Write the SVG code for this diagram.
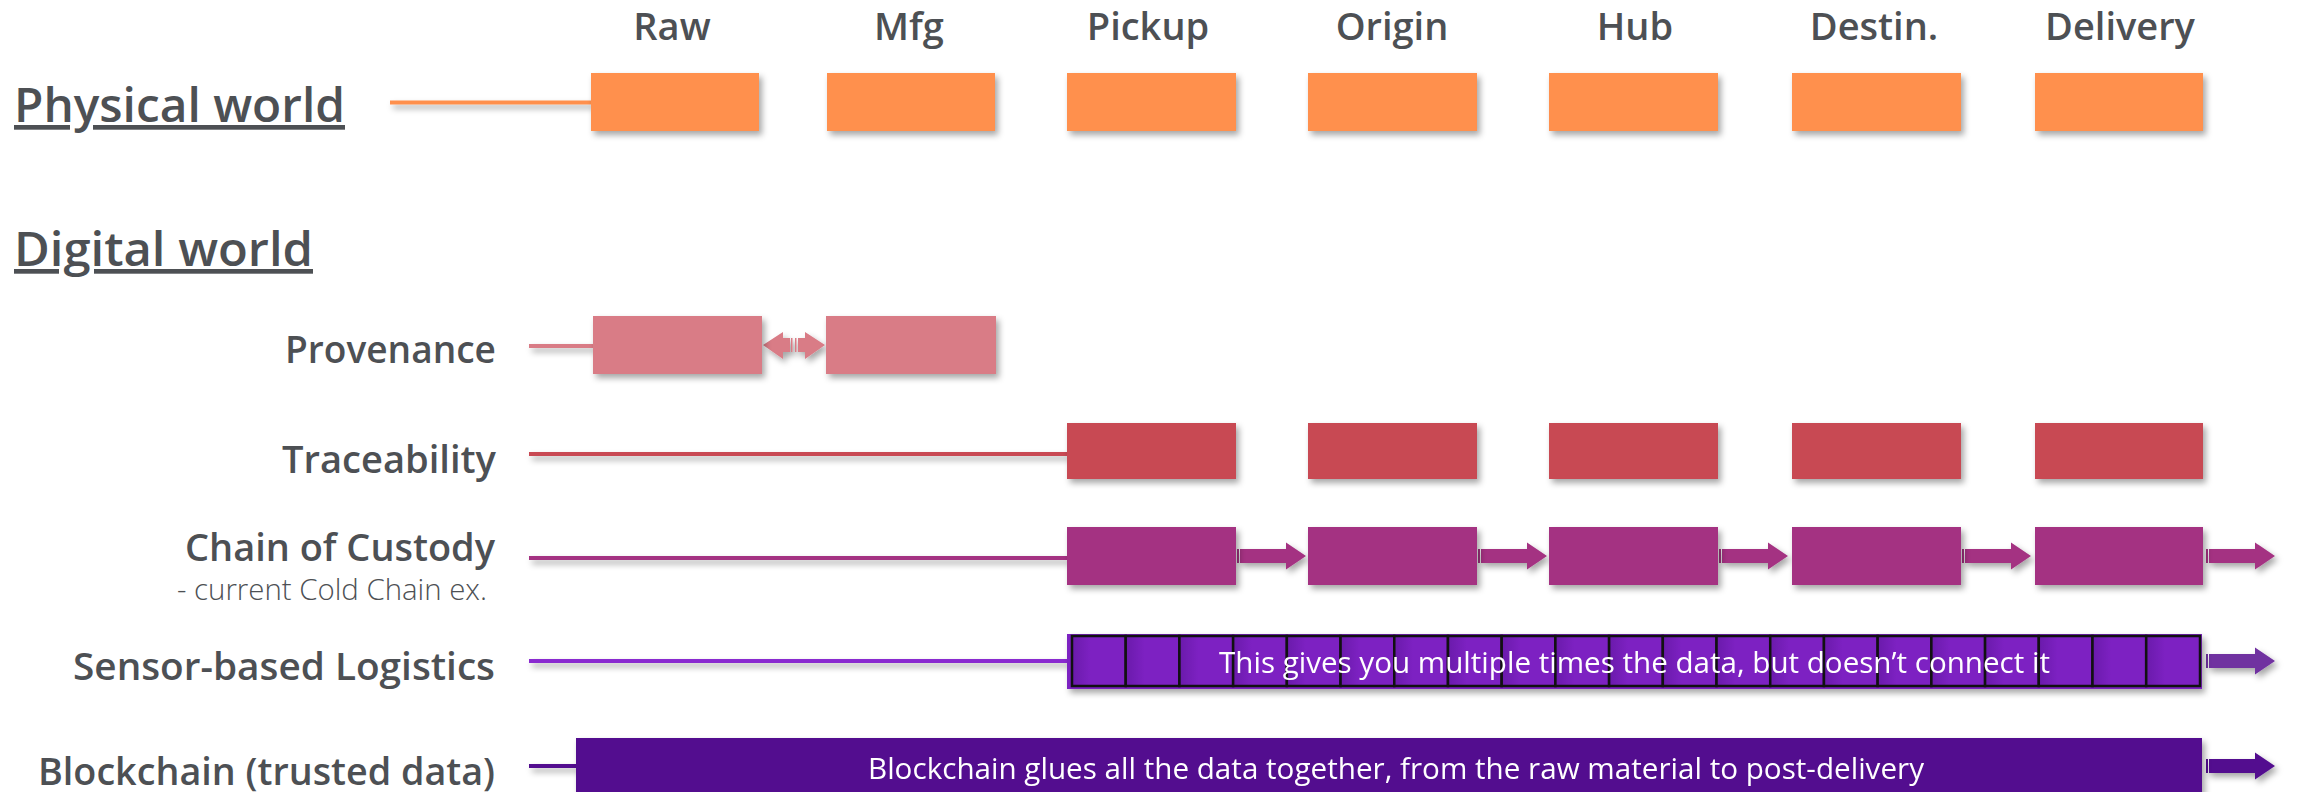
<svg xmlns="http://www.w3.org/2000/svg" xmlns:xlink="http://www.w3.org/1999/xlink" width="2298" height="792" viewBox="0 0 2298 792">
<style>
.lbl{font-family:"Open Sans","Noto Sans","Liberation Sans",sans-serif;font-weight:600;fill:#4d5054}
.stage{font-size:38px;text-anchor:middle}
.head{font-size:47px;text-decoration:underline}
.row{font-size:38px;text-anchor:end}
.sub{font-family:"Open Sans","Noto Sans","Liberation Sans",sans-serif;font-weight:300;font-size:29px;fill:#4d5054;text-anchor:end}
.bartxt{font-family:"Open Sans","Noto Sans","Liberation Sans",sans-serif;font-weight:400;font-size:29px;fill:#ffffff}
.orange{fill:#ff904d}
.prov{fill:#d97b86}
.trace{fill:#c84853}
.chain{fill:#a43382}
.sensor{fill:#7d20c2}
.block{fill:#53118f}
.ln{stroke-width:4;fill:none}
</style>
<defs>
<filter id="sh" x="-10%" y="-30%" width="120%" height="160%">
<feDropShadow dx="3" dy="4" stdDeviation="3" flood-color="#000" flood-opacity="0.35"/>
</filter>
<linearGradient id="cellg" x1="0" y1="0" x2="1" y2="0">
<stop offset="0" stop-color="#6a1aab"/>
<stop offset="0.35" stop-color="#7d21c2"/>
<stop offset="1" stop-color="#7d21c2"/>
</linearGradient>
<path id="arrow" d="M0,-7h2v14h-2zM3,-7H49V-13.5L69,0L49,13.5V7H3z"/>
</defs>

<g id="stage-labels">
<text class="lbl stage" x="672" y="40">Raw</text>
<text class="lbl stage" x="909" y="40">Mfg</text>
<text class="lbl stage" x="1148" y="40">Pickup</text>
<text class="lbl stage" x="1392" y="40">Origin</text>
<text class="lbl stage" x="1635" y="40">Hub</text>
<text class="lbl stage" x="1874" y="40">Destin.</text>
<text class="lbl stage" x="2120" y="40">Delivery</text>
</g>

<g id="headings">
<text class="lbl head" x="14" y="122" textLength="331" lengthAdjust="spacingAndGlyphs">Physical world</text>
<text class="lbl head" x="14" y="266" textLength="299" lengthAdjust="spacingAndGlyphs">Digital world</text>
</g>

<g id="row-labels">
<text class="lbl row" x="496" y="363" textLength="211" lengthAdjust="spacingAndGlyphs">Provenance</text>
<text class="lbl row" x="496" y="473" textLength="214" lengthAdjust="spacingAndGlyphs">Traceability</text>
<text class="lbl row" x="495" y="561" textLength="310" lengthAdjust="spacingAndGlyphs">Chain of Custody</text>
<text class="sub" x="487" y="600" textLength="310" lengthAdjust="spacingAndGlyphs">- current Cold Chain ex.</text>
<text class="lbl row" x="495" y="680" textLength="422" lengthAdjust="spacingAndGlyphs">Sensor-based Logistics</text>
<text class="lbl row" x="495" y="785" textLength="457" lengthAdjust="spacingAndGlyphs">Blockchain (trusted data)</text>
</g>

<g id="connectors" filter="url(#sh)">
<line class="ln" x1="390" y1="102.5" x2="591" y2="102.5" stroke="#ff904d"/>
<line class="ln" x1="529" y1="346" x2="593" y2="346" stroke="#d97b86"/>
<line class="ln" x1="529" y1="454" x2="1067" y2="454" stroke="#c84853"/>
<line class="ln" x1="529" y1="558" x2="1067" y2="558" stroke="#a43382"/>
<line class="ln" x1="529" y1="661" x2="1067" y2="661" stroke="#8a2bd0"/>
<line class="ln" x1="529" y1="766" x2="576" y2="766" stroke="#53118f"/>
<g class="prov">
<path d="M763,345L783,332V338H790V352H783V359Z"/>
<rect x="791" y="338" width="1.5" height="14"/>
<rect x="795" y="338" width="1.5" height="14"/>
<path d="M798,338H805V332L825,345L805,359V352H798Z"/>
</g>
<g class="chain">
<use xlink:href="#arrow" transform="translate(1237,556)"/>
<use xlink:href="#arrow" transform="translate(1478,556)"/>
<use xlink:href="#arrow" transform="translate(1719,556)"/>
<use xlink:href="#arrow" transform="translate(1962,556)"/>
<use xlink:href="#arrow" transform="translate(2206,556)"/>
</g>
<use xlink:href="#arrow" transform="translate(2206,661)" fill="#7030a0"/>
<use xlink:href="#arrow" transform="translate(2206,766)" fill="#53118f"/>
</g>

<g id="physical" filter="url(#sh)">
<rect id="phys-raw" class="orange" x="591" y="73" width="168" height="58"/>
<rect id="phys-mfg" class="orange" x="827" y="73" width="168" height="58"/>
<rect id="phys-pickup" class="orange" x="1067" y="73" width="169" height="58"/>
<rect id="phys-origin" class="orange" x="1308" y="73" width="169" height="58"/>
<rect id="phys-hub" class="orange" x="1549" y="73" width="169" height="58"/>
<rect id="phys-destin" class="orange" x="1792" y="73" width="169" height="58"/>
<rect id="phys-delivery" class="orange" x="2035" y="73" width="168" height="58"/>
</g>

<g id="provenance" filter="url(#sh)">
<rect id="prov-raw" class="prov" x="593" y="316" width="169" height="58"/>
<rect id="prov-mfg" class="prov" x="826" y="316" width="170" height="58"/>
</g>

<g id="traceability" filter="url(#sh)">
<rect id="trace-pickup" class="trace" x="1067" y="423" width="169" height="56"/>
<rect id="trace-origin" class="trace" x="1308" y="423" width="169" height="56"/>
<rect id="trace-hub" class="trace" x="1549" y="423" width="169" height="56"/>
<rect id="trace-destin" class="trace" x="1792" y="423" width="169" height="56"/>
<rect id="trace-delivery" class="trace" x="2035" y="423" width="168" height="56"/>
</g>

<g id="custody" filter="url(#sh)">
<rect id="chain-pickup" class="chain" x="1067" y="527" width="169" height="58"/>
<rect id="chain-origin" class="chain" x="1308" y="527" width="169" height="58"/>
<rect id="chain-hub" class="chain" x="1549" y="527" width="169" height="58"/>
<rect id="chain-destin" class="chain" x="1792" y="527" width="169" height="58"/>
<rect id="chain-delivery" class="chain" x="2035" y="527" width="168" height="58"/>
</g>

<g id="sensor-bar">
<rect class="sensor" x="1067" y="634" width="1135" height="55" filter="url(#sh)"/>
<g fill="url(#cellg)" stroke="#111" stroke-width="2.5">
<rect x="1072" y="636" width="53.71" height="50"/>
<rect x="1125.71" y="636" width="53.71" height="50"/>
<rect x="1179.42" y="636" width="53.71" height="50"/>
<rect x="1233.13" y="636" width="53.71" height="50"/>
<rect x="1286.84" y="636" width="53.71" height="50"/>
<rect x="1340.55" y="636" width="53.71" height="50"/>
<rect x="1394.26" y="636" width="53.71" height="50"/>
<rect x="1447.97" y="636" width="53.71" height="50"/>
<rect x="1501.68" y="636" width="53.71" height="50"/>
<rect x="1555.39" y="636" width="53.71" height="50"/>
<rect x="1609.1" y="636" width="53.71" height="50"/>
<rect x="1662.81" y="636" width="53.71" height="50"/>
<rect x="1716.52" y="636" width="53.71" height="50"/>
<rect x="1770.23" y="636" width="53.71" height="50"/>
<rect x="1823.94" y="636" width="53.71" height="50"/>
<rect x="1877.65" y="636" width="53.71" height="50"/>
<rect x="1931.36" y="636" width="53.71" height="50"/>
<rect x="1985.07" y="636" width="53.71" height="50"/>
<rect x="2038.78" y="636" width="53.71" height="50"/>
<rect x="2092.49" y="636" width="53.71" height="50"/>
<rect x="2146.2" y="636" width="53.8" height="50"/>
</g>
<text class="bartxt" x="1219" y="673" textLength="831" lengthAdjust="spacingAndGlyphs">This gives you multiple times the data, but doesn’t connect it</text>
</g>

<g id="blockchain-bar">
<rect class="block" x="576" y="738" width="1626" height="60" filter="url(#sh)"/>
<text class="bartxt" x="868" y="779" textLength="1056" lengthAdjust="spacingAndGlyphs">Blockchain glues all the data together, from the raw material to post-delivery</text>
</g>
</svg>
